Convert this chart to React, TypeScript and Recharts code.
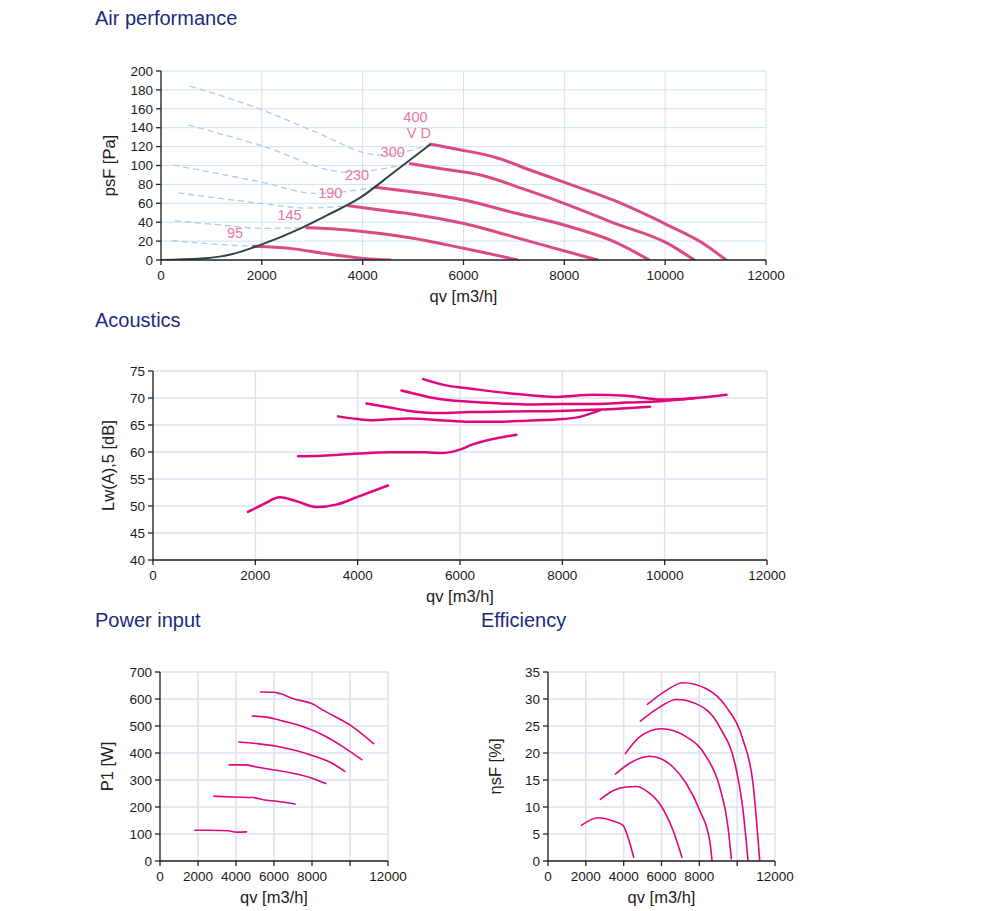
import { ComposedChart, Line, Scatter, XAxis, YAxis, CartesianGrid } from "recharts";

type Pt = [number, number];

const font = '"Liberation Sans", Arial, sans-serif';

// flow axis shared by all charts
const qvTicks = [0, 2000, 4000, 6000, 8000, 10000, 12000];

// ---- Air performance: psF [Pa] ----
const pressureTicks = [0, 20, 40, 60, 80, 100, 120, 140, 160, 180, 200];
const air95: Pt[] = [[1834, 14.5], [2560, 12.3], [3225, 7], [4020, 1.7], [4550, 0]];
const air145: Pt[] = [[2895, 34], [3500, 32.5], [4351, 28], [5000, 23], [5676, 16], [6400, 8], [7070, 0]];
const air190: Pt[] = [[3723, 57.4], [4351, 52.8], [5000, 48.5], [6007, 38.7], [7332, 19.4], [8657, 0]];
const air230: Pt[] = [[4252, 77], [5000, 72], [6007, 63.4], [7000, 50], [7994, 37], [8987, 19.4], [9683, 0]];
const air300: Pt[] = [[4948, 102], [5500, 97], [6338, 90], [7200, 75], [7994, 60], [8987, 39], [10048, 17.6], [10576, 0]];
const air400: Pt[] = [[5345, 122.5], [5900, 117], [6670, 108], [7332, 95], [8062, 81], [8987, 63], [10048, 37], [10710, 19], [11207, 0]];

// unstable region, shown dashed
const stall95: Pt[] = [[212, 20.4], [1000, 17], [1834, 14.5]];
const stall145: Pt[] = [[278, 41.5], [1200, 37], [1967, 33.5], [2895, 34]];
const stall190: Pt[] = [[344, 71], [1967, 60], [2900, 55], [3723, 57.4]];
const stall230: Pt[] = [[245, 100.4], [1967, 82.7], [3093, 70.4], [4252, 77]];
const stall300: Pt[] = [[543, 143], [1967, 121.5], [3690, 93], [4948, 102]];
const stall400: Pt[] = [[576, 184], [2000, 159], [3000, 137], [4351, 111], [5345, 122.5]];

// system curve through the design point
const systemCurve: Pt[] = [[0, 0], [800, 1.5], [1400, 6], [2000, 16.5], [2750, 33], [3300, 47.5], [3950, 66], [4600, 92], [5345, 122.5]];

const speedLabels = ["95", "145", "190", "230", "300", "400", "V D"];
const speedLabelQ = [1470, 2549, 3358, 3888, 4596, 5047, 5113];
const speedLabelP = [28.2, 47.5, 70.5, 89.8, 114.4, 151.4, 134.9];

// ---- Acoustics: Lw(A),5 [dB] ----
const soundTicks = [40, 45, 50, 55, 60, 65, 70, 75];
const lw95: Pt[] = [[1857, 48.9], [2150, 50.3], [2480, 51.6], [2800, 50.9], [3200, 49.8], [3600, 50.3], [4000, 51.7], [4594, 53.8]];
const lw145: Pt[] = [[2835, 59.2], [3300, 59.3], [4000, 59.7], [4650, 59.95], [5300, 59.95], [5650, 59.8], [5950, 60.3], [6250, 61.4], [7104, 63.2]];
const lw190: Pt[] = [[3617, 66.6], [4000, 66.1], [4301, 65.9], [4700, 66.1], [5019, 66.2], [5605, 65.9], [6191, 65.6], [6714, 65.6], [7300, 65.8], [8016, 66.1], [8342, 66.5], [8603, 67.3], [8734, 67.7]];
const lw230: Pt[] = [[4172, 69], [4600, 68.3], [4954, 67.7], [5605, 67.2], [6191, 67.4], [7000, 67.5], [7951, 67.6], [8734, 67.85], [9713, 68.4]];
const lw300: Pt[] = [[4856, 71.4], [5200, 70.6], [5540, 69.9], [6191, 69.3], [6800, 69.0], [7364, 68.8], [7951, 68.9], [8668, 68.9], [9255, 69.15], [9906, 69.4], [10600, 70]];
const lw400: Pt[] = [[5279, 73.5], [5800, 72.2], [6061, 71.9], [7038, 70.8], [7886, 70.2], [8603, 70.6], [9255, 70.4], [9646, 69.97], [9971, 69.7], [10557, 69.97], [11209, 70.6]];

// ---- Power input: P1 [W] ----
const powerTicks = [0, 100, 200, 300, 400, 500, 600, 700];
const p95: Pt[] = [[1831, 114], [2600, 114], [3588, 112], [4031, 107], [4559, 108]];
const p145: Pt[] = [[2834, 240], [3852, 237], [4907, 235], [5435, 227], [6142, 221], [7108, 211]];
const p190: Pt[] = [[3641, 356], [4470, 356], [5087, 348], [6142, 336], [7197, 322], [8074, 305], [8728, 287]];
const p230: Pt[] = [[4153, 441], [5087, 435], [6142, 425], [7197, 408], [8252, 385], [8955, 366], [9729, 332]];
const p300: Pt[] = [[4855, 537], [5614, 533], [6491, 518], [7546, 497], [8601, 466], [9657, 422], [10625, 375]];
const p400: Pt[] = [[5298, 626], [5963, 625], [6317, 620], [7018, 601], [7988, 583], [8601, 558], [10011, 503], [11240, 435]];

// ---- Efficiency: ηsF [%] ----
const effTicks = [0, 5, 10, 15, 20, 25, 30, 35];
const e95: Pt[] = [[1765, 6.6], [2643, 8.0], [3436, 7.4], [3965, 6.6], [4229, 4.4], [4530, 0.7]];
const e145: Pt[] = [[2770, 11.4], [3436, 13.0], [4141, 13.7], [4670, 13.8], [5198, 13.0], [5903, 10.6], [6607, 5.7], [7083, 0.7]];
const e190: Pt[] = [[3561, 16.1], [4318, 18.1], [5375, 19.4], [6000, 18.9], [6607, 17.4], [7316, 14.3], [8018, 9.4], [8547, 3.8], [8670, 0.1]];
const e230: Pt[] = [[4090, 19.9], [4847, 23.0], [5994, 24.5], [7316, 23.0], [8372, 19.3], [9076, 13.7], [9516, 6.3], [9692, 0.4]];
const e300: Pt[] = [[4884, 25.9], [5904, 28.5], [6787, 29.9], [7844, 29.1], [9076, 24.8], [9959, 16.8], [10310, 9.4], [10573, 0.1]];
const e400: Pt[] = [[5254, 29.0], [6258, 31.6], [7136, 33.0], [8372, 31.9], [9430, 28.5], [10310, 22.4], [10839, 14.3], [11191, 0.1]];

const toData = (pts: Pt[]) => pts.map(([q, v]) => ({ q, v }));

const axisStyle = { stroke: "#222", strokeWidth: 1.3 };
const tickStyle = { fontSize: 13.5, fill: "#1a1a1a", fontFamily: font };
const axisLabel = { fill: "#222", fontSize: 16.5, fontFamily: font };

const titleStyle = (left: number, top: number): React.CSSProperties => ({
    position: "absolute",
    left,
    top,
    fontSize: 20,
    lineHeight: "20px",
    color: "#1d2b7c",
    fontFamily: font,
    whiteSpace: "nowrap",
});

type ChartProps = {
    left: number;
    top: number;
    width: number;
    marginTop: number;
    marginLeft: number;
    marginRight: number;
    yWidth: number;
    yTicks: number[];
    yLabel: string;
    curves: Pt[][];
    curveColor: string;
    curveWidth: number;
    gridColor: string;
    gridWidth: number;
    hide10000?: boolean;
    extra?: React.ReactNode[];
    overlay?: React.ReactNode[];
};

function CurveChart(p: ChartProps) {
    const yMin = p.yTicks[0];
    const yMax = p.yTicks[p.yTicks.length - 1];
    return (
        <div style={{ position: "absolute", left: p.left, top: p.top }}>
            <ComposedChart
                width={p.width}
                height={p.marginTop + 189 + 50}
                margin={{ top: p.marginTop, right: p.marginRight, bottom: 0, left: p.marginLeft }}
            >
                <CartesianGrid stroke={p.gridColor} strokeWidth={p.gridWidth} />
                <XAxis
                    type="number"
                    dataKey="q"
                    domain={[0, 12000]}
                    ticks={qvTicks}
                    interval={0}
                    allowDataOverflow
                    height={50}
                    axisLine={axisStyle}
                    tickLine={axisStyle}
                    tickSize={5}
                    tickMargin={5}
                    tick={tickStyle}
                    tickFormatter={(v: number) => (p.hide10000 && v === 10000 ? "" : String(v))}
                    label={{ value: "qv [m3/h]", position: "insideBottom", offset: 8, ...axisLabel }}
                />
                <YAxis
                    type="number"
                    dataKey="v"
                    domain={[yMin, yMax]}
                    ticks={p.yTicks}
                    interval={0}
                    allowDataOverflow
                    width={p.yWidth}
                    axisLine={axisStyle}
                    tickLine={axisStyle}
                    tickSize={5}
                    tickMargin={3}
                    tick={tickStyle}
                    label={{ value: p.yLabel, angle: -90, position: "center", ...axisLabel }}
                />
                {p.extra}
                {p.curves.map((c, i) => (
                    <Line
                        key={`curve-${i}`}
                        data={toData(c)}
                        dataKey="v"
                        type="monotone"
                        stroke={p.curveColor}
                        strokeWidth={p.curveWidth}
                        strokeLinecap="round"
                        dot={false}
                        activeDot={false}
                        isAnimationActive={false}
                    />
                ))}
                {p.overlay}
            </ComposedChart>
        </div>
    );
}

const stallLines = [stall95, stall145, stall190, stall230, stall300, stall400].map((c, i) => (
    <Line
        key={`stall-${i}`}
        data={toData(c)}
        dataKey="v"
        type="monotone"
        stroke="#aecbea"
        strokeWidth={1.3}
        strokeDasharray="6 4"
        dot={false}
        activeDot={false}
        isAnimationActive={false}
    />
));

const labelData = speedLabels.map((t, i) => ({ q: speedLabelQ[i], v: speedLabelP[i], t }));

const airOverlay = [
    <Line
        key="system"
        data={toData(systemCurve)}
        dataKey="v"
        type="monotone"
        stroke="#2e4545"
        strokeWidth={2}
        dot={false}
        activeDot={false}
        isAnimationActive={false}
    />,
    <Scatter
        key="labels"
        data={labelData}
        dataKey="v"
        isAnimationActive={false}
        shape={(s: any) => (
            <text
                x={s.cx}
                y={s.cy}
                textAnchor="middle"
                dominantBaseline="central"
                fill="#e8789e"
                fontSize={14.5}
                fontFamily={font}
            >
                {s.payload.t}
            </text>
        )}
    />,
];

export default function App() {
    return (
        <div style={{ position: "absolute", left: 0, top: 0, width: 1000, height: 911, background: "#fff", fontFamily: font }}>
            <div style={titleStyle(95, 8)}>Air performance</div>
            <div style={titleStyle(95, 310)}>Acoustics</div>
            <div style={titleStyle(95, 610)}>Power input</div>
            <div style={titleStyle(481, 610)}>Efficiency</div>

            <CurveChart
                left={0}
                top={60}
                width={800}
                marginTop={11}
                marginLeft={57}
                marginRight={34}
                yWidth={104}
                yTicks={pressureTicks}
                yLabel="psF [Pa]"
                curves={[air95, air145, air190, air230, air300, air400]}
                curveColor="#dc4a82"
                curveWidth={3}
                gridColor="#cfe2f6"
                gridWidth={1}
                extra={stallLines}
                overlay={airOverlay}
            />

            <CurveChart
                left={0}
                top={360}
                width={800}
                marginTop={11}
                marginLeft={63}
                marginRight={33}
                yWidth={90}
                yTicks={soundTicks}
                yLabel="Lw(A),5 [dB]"
                curves={[lw95, lw145, lw190, lw230, lw300, lw400]}
                curveColor="#e2067c"
                curveWidth={2.5}
                gridColor="#dde3ee"
                gridWidth={1.5}
            />

            <CurveChart
                left={0}
                top={660}
                width={420}
                marginTop={12}
                marginLeft={54}
                marginRight={32}
                yWidth={106}
                yTicks={powerTicks}
                yLabel="P1 [W]"
                curves={[p95, p145, p190, p230, p300, p400]}
                curveColor="#e2067c"
                curveWidth={1.6}
                gridColor="#dde3ee"
                gridWidth={1.5}
                hide10000
            />

            <CurveChart
                left={400}
                top={660}
                width={420}
                marginTop={12}
                marginLeft={43}
                marginRight={45}
                yWidth={105}
                yTicks={effTicks}
                yLabel="ηsF [%]"
                curves={[e95, e145, e190, e230, e300, e400]}
                curveColor="#e2067c"
                curveWidth={1.6}
                gridColor="#dde3ee"
                gridWidth={1.5}
                hide10000
            />
        </div>
    );
}
